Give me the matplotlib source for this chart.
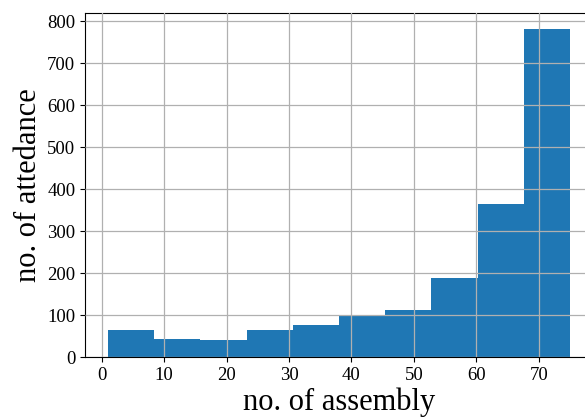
import numpy as np
import matplotlib
matplotlib.use("Agg")
import matplotlib.pyplot as plt

# histogram of attendance per assembly (10 bins between 1 and 75)
bin_edges = [1.0, 8.4, 15.8, 23.2, 30.6, 38.0, 45.4, 52.8, 60.2, 67.6, 75.0]
counts = [64, 44, 41, 64, 76, 99, 113, 189, 364, 782]

xticks = [0, 10, 20, 30, 40, 50, 60, 70]
yticks = [0, 100, 200, 300, 400, 500, 600, 700, 800]

plt.rcParams['font.family'] = ['Liberation Serif', 'DejaVu Serif']

fig = plt.figure(figsize=(5.85, 4.18), dpi=100)
# axes runs past the right edge of the figure (cropped like the original)
ax = fig.add_axes([0.1453, 0.1459, 0.8684, 0.8237])

ax.hist(np.array(bin_edges[:-1]), bins=bin_edges, weights=counts, color='#1f77b4')
ax.set_axisbelow(False)
ax.grid(True, color='#b0b0b0', linewidth=0.9)

ax.set_xticks(xticks)
ax.set_yticks(yticks)
ax.set_ylim(0, 820)
ax.tick_params(labelsize=13.5)

ax.set_xlabel("no. of assembly", fontsize=22, labelpad=3)
ax.set_ylabel("no. of attedance", fontsize=22, labelpad=3)

fig.savefig("out.png", dpi=100)
